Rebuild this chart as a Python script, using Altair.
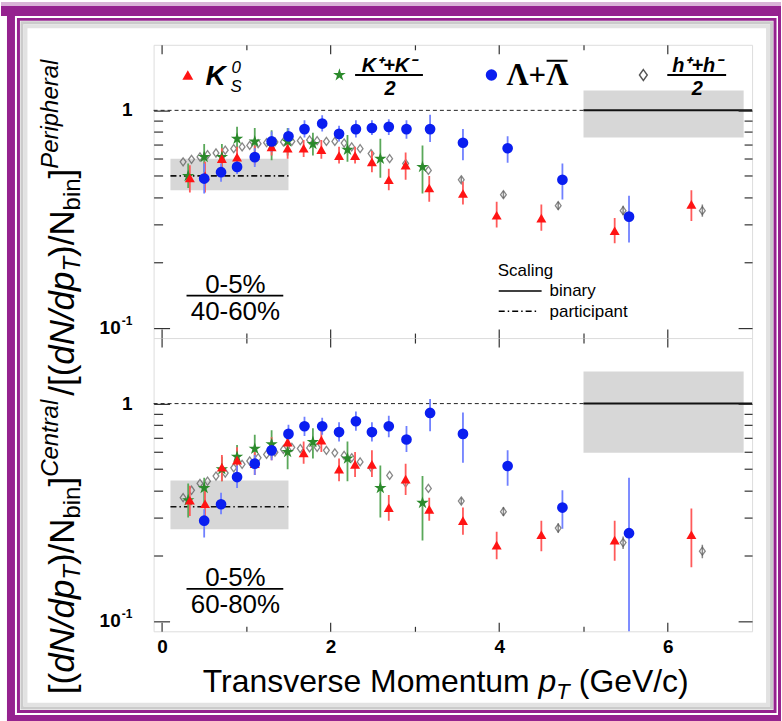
import altair as alt
import pandas as pd

# ---------------- values ----------------
# top panel : (0-5%)/(40-60%) ; bottom panel : (0-5%)/(60-80%)
k0s_pt = [0.33, 0.51, 0.71, 0.89, 1.10, 1.30, 1.49, 1.68, 1.89, 2.10, 2.29, 2.49, 2.69, 2.89, 3.17, 3.57, 3.97, 4.50, 5.37, 6.28]
k0s_top = [0.49, 0.50, 0.60, 0.61, 0.62, 0.68, 0.67, 0.67, 0.66, 0.62, 0.62, 0.58, 0.48, 0.56, 0.44, 0.415, 0.33, 0.32, 0.28, 0.37]
k0s_top_lo = [0.42, 0.42, 0.54, 0.55, 0.56, 0.62, 0.60, 0.61, 0.60, 0.57, 0.57, 0.52, 0.43, 0.48, 0.38, 0.37, 0.29, 0.28, 0.245, 0.31]
k0s_top_hi = [0.56, 0.58, 0.67, 0.68, 0.69, 0.75, 0.74, 0.73, 0.73, 0.68, 0.68, 0.65, 0.54, 0.64, 0.50, 0.47, 0.38, 0.37, 0.32, 0.43]
k0s_bot = [0.36, 0.347, 0.51, 0.55, 0.53, 0.62, 0.665, 0.594, 0.68, 0.50, 0.526, 0.526, 0.333, 0.45, 0.327, 0.29, 0.224, 0.25, 0.236, 0.25]
k0s_bot_lo = [0.305, 0.29, 0.44, 0.48, 0.47, 0.55, 0.58, 0.53, 0.60, 0.44, 0.46, 0.46, 0.29, 0.38, 0.29, 0.25, 0.193, 0.21, 0.19, 0.177]
k0s_bot_hi = [0.42, 0.42, 0.58, 0.63, 0.60, 0.70, 0.76, 0.67, 0.77, 0.56, 0.60, 0.61, 0.38, 0.53, 0.37, 0.333, 0.258, 0.29, 0.29, 0.33]

kch_pt = [0.31, 0.50, 0.71, 0.89, 1.10, 1.30, 1.49, 1.79, 2.20, 2.59, 3.09]
kch_top = [0.50, 0.61, 0.61, 0.74, 0.72, 0.69, 0.72, 0.70, 0.66, 0.60, 0.55]
kch_top_lo = [0.44, 0.52, 0.53, 0.65, 0.62, 0.59, 0.62, 0.62, 0.58, 0.49, 0.415]
kch_top_hi = [0.57, 0.70, 0.70, 0.84, 0.83, 0.81, 0.83, 0.79, 0.77, 0.74, 0.69]
kch_bot = [0.36, 0.41, 0.50, 0.57, 0.62, 0.65, 0.60, 0.667, 0.56, 0.41, 0.35]
kch_bot_lo = [0.30, 0.34, 0.44, 0.48, 0.53, 0.564, 0.50, 0.56, 0.44, 0.30, 0.235]
kch_bot_hi = [0.43, 0.457, 0.57, 0.645, 0.72, 0.755, 0.696, 0.77, 0.67, 0.52, 0.465]

lam_pt = [0.50, 0.70, 0.89, 1.10, 1.30, 1.50, 1.69, 1.90, 2.10, 2.30, 2.49, 2.69, 2.90, 3.18, 3.57, 4.10, 4.75, 5.54]
lam_top = [0.486, 0.52, 0.55, 0.61, 0.72, 0.76, 0.82, 0.87, 0.78, 0.82, 0.83, 0.84, 0.82, 0.82, 0.71, 0.67, 0.48, 0.325]
lam_top_lo = [0.415, 0.47, 0.51, 0.55, 0.645, 0.70, 0.75, 0.80, 0.72, 0.75, 0.77, 0.77, 0.74, 0.716, 0.59, 0.575, 0.39, 0.247]
lam_top_hi = [0.57, 0.57, 0.60, 0.67, 0.80, 0.83, 0.90, 0.95, 0.85, 0.90, 0.90, 0.91, 0.90, 0.955, 0.82, 0.76, 0.57, 0.405]
lam_bot = [0.29, 0.345, 0.46, 0.53, 0.61, 0.726, 0.787, 0.787, 0.74, 0.83, 0.74, 0.787, 0.684, 0.906, 0.726, 0.517, 0.333, 0.254]
lam_bot_lo = [0.243, 0.31, 0.41, 0.47, 0.55, 0.65, 0.71, 0.72, 0.67, 0.75, 0.67, 0.70, 0.60, 0.746, 0.535, 0.42, 0.266, 0.05]
lam_bot_hi = [0.327, 0.39, 0.52, 0.58, 0.68, 0.80, 0.87, 0.86, 0.82, 0.92, 0.82, 0.88, 0.79, 1.05, 0.91, 0.61, 0.40, 0.457]

hch_pt = [0.25, 0.35, 0.45, 0.54, 0.64, 0.75, 0.85, 0.95, 1.04, 1.14, 1.24, 1.34, 1.44, 1.54, 1.64, 1.75,
          1.84, 1.95, 2.05, 2.16, 2.25, 2.35, 2.48, 2.70, 2.89, 3.16, 3.55, 4.05, 4.70, 5.47, 6.41]
hch_top = [0.58, 0.596, 0.611, 0.626, 0.637, 0.656, 0.667, 0.679, 0.69, 0.703, 0.71, 0.716, 0.716, 0.72, 0.726, 0.731,
           0.726, 0.72, 0.72, 0.708, 0.679, 0.667, 0.633, 0.60, 0.57, 0.53, 0.48, 0.41, 0.365, 0.346, 0.346]
hch_bot = [0.37, 0.40, 0.43, 0.44, 0.465, 0.48, 0.507, 0.526, 0.545, 0.564, 0.584, 0.598, 0.616, 0.63, 0.622, 0.626,
           0.63, 0.61, 0.594, 0.578, 0.564, 0.54, 0.51, 0.468, 0.433, 0.408, 0.357, 0.319, 0.268, 0.23, 0.21]
hch_err_pt = [3.55, 4.05, 4.70, 5.47, 6.41]
hch_top_lo = [0.465, 0.395, 0.35, 0.33, 0.325]
hch_top_hi = [0.495, 0.425, 0.38, 0.365, 0.37]
hch_bot_lo = [0.345, 0.305, 0.255, 0.215, 0.195]
hch_bot_hi = [0.37, 0.335, 0.282, 0.245, 0.225]

# scaling references: participant band (x1, x2, lo, hi, level), binary band (x1, x2, lo, hi)
part_top = [0.1, 1.5, 0.43, 0.60, 0.50]
part_bot = [0.1, 1.5, 0.265, 0.444, 0.336]
bin_top = [5.0, 6.9, 0.75, 1.235]
bin_bot = [5.0, 6.9, 0.594, 1.406]

X_DOM = [-0.1, 7.0]
Y_DOM = [0.09, 2.0]
X_MAJOR = [0, 2, 4, 6]
X_MINOR = [1, 3, 5]
Y_MAJOR = [0.1, 1.0]
Y_MINOR = [0.2, 0.3, 0.4, 0.5, 0.6, 0.7, 0.8, 0.9]

# ---------------- styling ----------------
W, H = 600, 294
FONT = "Liberation Sans"
PURPLE = "#95228f"
RED, GREEN, BLUE, GRAY = "#ff1414", "#2b8a2b", "#0a1ef0", "#555555"
STAR = "M0,-1L0.2245,-0.309L0.951,-0.309L0.363,0.118L0.588,0.809L0,0.382L-0.588,0.809L-0.363,0.118L-0.951,-0.309L-0.2245,-0.309Z"
DIAM = "M0,-1L0.72,0L0,1L-0.72,0Z"

xs = alt.Scale(domain=X_DOM, nice=False, zero=False)
ys = alt.Scale(type="log", domain=Y_DOM, nice=False)
one = pd.DataFrame({"k": [0]})


def sdf(pt, v, lo=None, hi=None):
    d = {"pt": pt, "v": v}
    if lo is not None:
        d["lo"] = lo
        d["hi"] = hi
    return pd.DataFrame(d)


def X(f):
    return alt.X(f, type="quantitative", scale=xs, axis=None)


def Y(f):
    return alt.Y(f, type="quantitative", scale=ys, axis=None)


def txt(text, x, y, size, align="left", angle=0, **kw):
    props = dict(text=text, fontSize=size, font=kw.pop("font", FONT), align=align,
                 baseline=kw.pop("baseline", "alphabetic"), color=kw.pop("color", "black"), **kw)
    if angle:
        props["angle"] = angle
    return alt.Chart(one).mark_text(**props).encode(x=alt.value(x), y=alt.value(y))


def hline(x1, x2, y, **kw):
    return alt.Chart(one).mark_rule(**kw).encode(x=alt.value(x1), x2=alt.value(x2), y=alt.value(y))


def prect(x1, x2, y1, y2, **kw):
    return alt.Chart(one).mark_rect(**kw).encode(x=alt.value(x1), x2=alt.value(x2),
                                                 y=alt.value(y1), y2=alt.value(y2))


def marker(x, y, **kw):
    return alt.Chart(one).mark_point(**kw).encode(x=alt.value(x), y=alt.value(y))


def ref_layers(part, binr):
    band = pd.DataFrame({"x1": [part[0], binr[0]], "x2": [part[1], binr[1]],
                         "lo": [part[2], binr[2]], "hi": [part[3], binr[3]]})
    bands = alt.Chart(band).mark_rect(color="#cdcdcd", opacity=0.8).encode(
        x=X("x1"), x2="x2", y=Y("lo"), y2="hi")
    dash = alt.Chart(pd.DataFrame({"x1": [X_DOM[0]], "x2": [binr[0]], "y": [1.0]})).mark_rule(
        color="#222", strokeWidth=1, strokeDash=[4, 3]).encode(x=X("x1"), x2="x2", y=Y("y"))
    solid = alt.Chart(pd.DataFrame({"x1": [binr[0]], "x2": [X_DOM[1]], "y": [1.0]})).mark_rule(
        color="#111", strokeWidth=2).encode(x=X("x1"), x2="x2", y=Y("y"))
    dd = alt.Chart(pd.DataFrame({"x1": [part[0]], "x2": [part[1]], "y": [part[4]]})).mark_rule(
        color="#111", strokeWidth=1.6, strokeDash=[6, 3, 1.5, 3]).encode(x=X("x1"), x2="x2", y=Y("y"))
    return [bands, dash, solid, dd]


def data_layers(k0s, kch, lam, hch, herr):
    out = []
    out.append(alt.Chart(herr).mark_rule(color="#888", strokeWidth=1.5, clip=True).encode(
        x=X("pt"), y=Y("lo"), y2="hi"))
    out.append(alt.Chart(hch).mark_point(shape=DIAM, size=65, filled=False, color=GRAY,
                                          strokeWidth=1.3).encode(x=X("pt"), y=Y("v")))
    for df, ec in [(kch, "#5aa85a"), (k0s, "#ff5a5a"), (lam, "#7080ff")]:
        out.append(alt.Chart(df).mark_rule(color=ec, strokeWidth=1.8, clip=True).encode(
            x=X("pt"), y=Y("lo"), y2="hi"))
    out.append(alt.Chart(kch).mark_point(shape=STAR, size=170, filled=True, color=GREEN, opacity=1)
               .encode(x=X("pt"), y=Y("v")))
    out.append(alt.Chart(k0s).mark_point(shape="triangle-up", size=100, filled=True, color=RED, opacity=1)
               .encode(x=X("pt"), y=Y("v")))
    out.append(alt.Chart(lam).mark_point(shape="circle", size=115, filled=True, color=BLUE, opacity=1)
               .encode(x=X("pt"), y=Y("v")))
    return out


def ylabels():
    lab = dict(font=FONT, fontWeight="bold", color="black", baseline="middle")
    one_lab = alt.Chart(pd.DataFrame({"v": [Y_MAJOR[1]]})).mark_text(
        text="1", fontSize=19, align="right", **lab).encode(x=alt.value(-21), y=Y("v"))
    ten = alt.Chart(pd.DataFrame({"v": [Y_MAJOR[0]]})).mark_text(
        text="10", fontSize=19, align="right", **lab).encode(x=alt.value(-33), y=Y("v"))
    exp = alt.Chart(pd.DataFrame({"v": [Y_MAJOR[0]]})).mark_text(
        text="-1", fontSize=12, align="left", dy=-7, **lab).encode(x=alt.value(-32), y=Y("v"))
    return [one_lab, ten, exp]


def axis_layers(show_x_labels):
    base = dict(grid=False, domain=False, title=None, tickColor="#333", tickWidth=1.2, zindex=1)
    lab = dict(labelFont=FONT, labelFontSize=19, labelFontWeight="bold", labelColor="black")
    dummy = pd.DataFrame({"x": [1.0], "y": [1.0]})
    pairs = [
        (alt.Axis(orient="bottom", values=X_MAJOR, tickSize=9, offset=-9, labels=show_x_labels,
                  labelPadding=6, format="d", **base, **lab),
         alt.Axis(orient="left", values=Y_MAJOR, tickSize=16, offset=-16, labels=False, **base)),
        (alt.Axis(orient="bottom", values=X_MINOR, tickSize=5, offset=-5, labels=False, **base),
         alt.Axis(orient="left", values=Y_MINOR, tickSize=9, offset=-9, labels=False, **base)),
        (alt.Axis(orient="top", values=X_MAJOR, tickSize=9, offset=-9, labels=False, **base),
         alt.Axis(orient="right", values=Y_MAJOR, tickSize=14, offset=-14, labels=False, **base)),
        (alt.Axis(orient="top", values=X_MINOR, tickSize=5, offset=-5, labels=False, **base),
         alt.Axis(orient="right", values=Y_MINOR, tickSize=8, offset=-8, labels=False, **base)),
    ]
    return [alt.Chart(dummy).mark_point(opacity=0).encode(
        x=alt.X("x:Q", scale=xs, axis=ax), y=alt.Y("y:Q", scale=ys, axis=ay)) for ax, ay in pairs]


# character advance widths (Helvetica / Liberation Sans metrics, per 1000 em) for the rotated title
ADV = {"[": 278, "(": 333, ")": 333, "]": 278, "/": 278, "d": 556, "N": 722, "p": 556, "T": 611,
       "b": 556, "i": 222, "n": 556, "C": 722, "e": 556, "t": 278, "r": 333, "a": 556, "l": 222,
       "P": 667, "h": 556}


def tw(s, size):
    return sum(ADV[c] for c in s) * size / 1000.0


# ---------------- top panel ----------------
OX, OY = 153, 43          # plot origin of the top panel on the page
frame = [
    prect(-OX, 782 - OX, -OY, 4 - OY, color="#d9b3d7"),
    prect(-OX, 782 - OX, 4 - OY, 14 - OY, color=PURPLE),
    prect(6 - OX, 14 - OX, 4 - OY, 721 - OY, color=PURPLE),
    prect(779 - OX, 782 - OX, 4 - OY, 721 - OY, color=PURPLE),
    prect(6 - OX, 782 - OX, 715 - OY, 721 - OY, color=PURPLE),
    prect(17.5 - OX, 776 - OX, 17.5 - OY, 711.5 - OY, fillOpacity=0, stroke=PURPLE, strokeWidth=3),
    prect(21 - OX, 772.5 - OX, 21 - OY, 708 - OY, fillOpacity=0, stroke="#b5b5b5", strokeWidth=3, strokeOpacity=0.7),
    prect(24.5 - OX, 769 - OX, 24.5 - OY, 704.5 - OY, fillOpacity=0, stroke="#e2e2e2", strokeWidth=4),
]

# rotated y title, built from pieces running upward
YT_F, YT_S = 35, 24
base_x, sub_x, sup_x = 73 - OX, 79 - OX, 57 - OX
pieces = [("[(", "normal", "m"), ("dN/dp", "italic", "m"), ("T", "italic", "sub"), (")/N", "normal", "m"),
          ("bin", "normal", "sub"), ("]", "normal", "m"), ("Central", "italic", "sup"), (None, None, "gap"),
          ("/[(", "normal", "m"), ("dN/dp", "italic", "m"), ("T", "italic", "sub"), (")/N", "normal", "m"),
          ("bin", "normal", "sub"), ("]", "normal", "m"), ("Peripheral", "italic", "sup")]
ytitle = []
cur = 694 - OY
for text, style, kind in pieces:
    if kind == "gap":
        cur -= 4
        continue
    size = YT_F if kind == "m" else YT_S
    xpos = base_x if kind == "m" else (sub_x if kind == "sub" else sup_x)
    ytitle.append(txt(text, xpos, cur, size, angle=270, fontStyle=style))
    cur -= tw(text, size)

legend = [
    marker(34.3, 30.3, shape="triangle-up", size=120, filled=True, color=RED, opacity=1),
    txt("K", 52, 40.3, 28, fontStyle="italic", fontWeight="bold"),
    txt("0", 78, 28.7, 17, fontStyle="italic"),
    txt("S", 77, 47.5, 17, fontStyle="italic"),
    marker(186.3, 30.3, shape=STAR, size=180, filled=True, color=GREEN, opacity=1),
    txt("K\u207a+K\u207b", 236, 27.5, 20, align="center", fontStyle="italic", fontWeight="bold"),
    hline(202, 270, 30.3, color="black", strokeWidth=2),
    txt("2", 237, 50, 20, align="center", fontStyle="italic", fontWeight="bold"),
    marker(338.7, 30.3, shape="circle", size=130, filled=True, color=BLUE, opacity=1),
    txt("\u039b+\u039b", 353.7, 40.3, 31, font="Liberation Serif", fontWeight="bold"),
    hline(394, 415, 16, color="black", strokeWidth=2),
    marker(491, 30.3, shape=DIAM, size=120, filled=False, color=GRAY, strokeWidth=1.4, opacity=1),
    txt("h\u207a+h\u207b", 545, 27.5, 20, align="center", fontStyle="italic", fontWeight="bold"),
    hline(515, 574, 30.3, color="black", strokeWidth=2),
    txt("2", 545, 50, 20, align="center", fontStyle="italic", fontWeight="bold"),
    # scaling legend
    txt("Scaling", 345, 232, 17),
    hline(346, 389, 246.7, color="black", strokeWidth=1.5),
    txt("binary", 397, 252, 17),
    hline(346, 384, 267, color="black", strokeWidth=1.5, strokeDash=[6, 3, 1.5, 3]),
    txt("participant", 397, 272.5, 17),
]


def centrality(lower):
    return [txt("0-5%", 82, 248.7, 26, align="center"),
            hline(33, 130, 251.5, color="black", strokeWidth=1.6),
            txt(lower, 82, 275.5, 26, align="center")]


top = alt.layer(
    *frame, *ytitle,
    *ref_layers(part_top, bin_top),
    *data_layers(sdf(k0s_pt, k0s_top, k0s_top_lo, k0s_top_hi), sdf(kch_pt, kch_top, kch_top_lo, kch_top_hi),
                 sdf(lam_pt, lam_top, lam_top_lo, lam_top_hi), sdf(hch_pt, hch_top),
                 sdf(hch_err_pt, hch_top_lo, hch_top_lo, hch_top_hi)),
    *legend, *centrality("40-60%"), *ylabels(),
    *axis_layers(False),
).properties(width=W, height=H).resolve_axis(x="independent", y="independent")

# ---------------- bottom panel ----------------
BY = 337  # page y of the bottom panel's top edge
xtitle = [
    txt("Transverse Momentum", 377, 692 - BY, 32, align="right"),
    txt("p", 386, 692 - BY, 32, fontStyle="italic"),
    txt("T", 386 + tw("p", 32), 699 - BY, 22, fontStyle="italic"),
    txt("(GeV/c)", 386 + tw("p", 32) + tw("T", 22) + 9, 692 - BY, 32),
]

bottom = alt.layer(
    *ref_layers(part_bot, bin_bot),
    *data_layers(sdf(k0s_pt, k0s_bot, k0s_bot_lo, k0s_bot_hi), sdf(kch_pt, kch_bot, kch_bot_lo, kch_bot_hi),
                 sdf(lam_pt, lam_bot, lam_bot_lo, lam_bot_hi), sdf(hch_pt, hch_bot),
                 sdf(hch_err_pt, hch_bot_lo, hch_bot_lo, hch_bot_hi)),
    *centrality("60-80%"), *xtitle, *ylabels(),
    *axis_layers(True),
).properties(width=W, height=H).resolve_axis(x="independent", y="independent")

chart = alt.vconcat(top, bottom, spacing=0, bounds="flush").properties(
    padding=0, background="white"
).configure_view(stroke="#333", strokeWidth=1.5).configure(font=FONT)

chart.save("out.html", embed_options={"renderer": "svg", "actions": False})
